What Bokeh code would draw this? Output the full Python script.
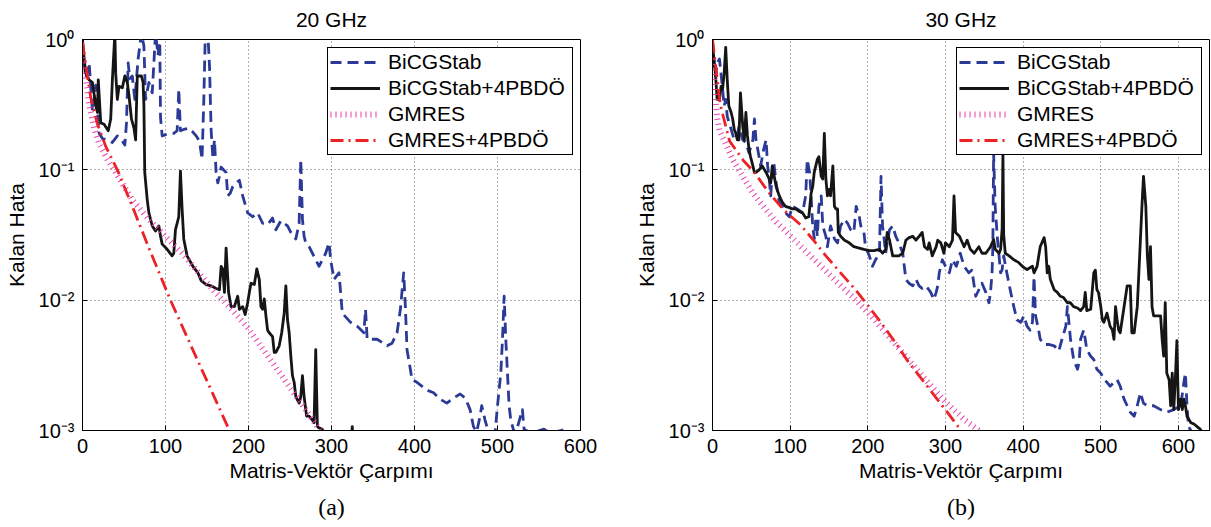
import numpy as np
from bokeh.plotting import figure
from bokeh.layouts import row
from bokeh.models import (Range1d, FixedTicker, CustomJSTickFormatter, Legend,
                          LegendItem, Title)
from bokeh.embed import file_html
from bokeh.resources import INLINE

# ---------------- labels ----------------
SERIES_NAMES = ["BiCGStab", "BiCGStab+4PBDÖ", "GMRES", "GMRES+4PBDÖ"]
X_LABEL = "Matris-Vektör Çarpımı"
Y_LABEL = "Kalan Hata"
X_TICKS = [0, 100, 200, 300, 400, 500, 600]
Y_TICKS = [1e-3, 1e-2, 1e-1, 1.0]

# ---------------- (a) 20 GHz : x = iterations, values = log10(residual) -------------
a_bicg_x = [0,4,8,12,16,20,24,30,36,42,48,51,53,55,57,60,63,67,71,74,76,80,84,88,91,93,94,96,100,105,
            110,114,116,118,122,128,133,137,141,144,146,148,151,153,155,157,159,161,163,165,167,173,175,
            178,181,185,189,193,199,205,211,217,223,229,233,239,243,247,251,257,261,263,265,267,269,273,
            277,281,285,289,293,297,299,303,309,311,313,323,331,339,341,343,355,367,373,379,383,387,389,
            391,395,397,403,415,423,431,439,447,455,461,467,471,475,479,481,485,489,497,500,504,506,508,
            510,512,514,516,519,522,530,532,540,556,564,576,584,588]
a_bicg_log = [-0.05,-0.3,-0.18,-0.55,-0.35,-0.72,-0.76,-0.77,-0.79,-0.74,-0.78,-0.81,-0.64,-0.18,-0.30,
              -0.28,-0.46,-0.15,0.05,-0.05,-0.46,-0.33,-0.41,0.05,-0.12,0.05,-0.6,-0.74,-0.73,-0.72,-0.72,
              -0.70,-0.38,-0.70,-0.69,-0.68,-0.71,-0.74,-0.78,-0.92,-0.5,0.05,0.05,-0.2,-0.7,-0.9,-0.77,
              -1.02,-1.1,-1.05,-0.98,-1.02,-1.20,-1.18,-1.13,-1.10,-1.08,-1.20,-1.33,-1.36,-1.33,-1.41,
              -1.42,-1.37,-1.46,-1.39,-1.41,-1.43,-1.48,-1.53,-1.41,-0.92,-1.38,-1.51,-1.56,-1.59,-1.64,
              -1.69,-1.74,-1.69,-1.64,-1.56,-1.69,-1.84,-1.79,-1.94,-2.10,-2.17,-2.20,-2.25,-2.07,-2.30,
              -2.30,-2.35,-2.33,-2.25,-2.07,-1.79,-2.05,-2.38,-2.53,-2.61,-2.63,-2.69,-2.71,-2.76,-2.79,
              -2.75,-2.72,-2.75,-2.84,-2.97,-3.01,-2.89,-2.81,-2.92,-3.01,-3.02,-2.81,-2.56,-2.30,-1.97,
              -2.30,-2.56,-2.81,-2.92,-2.99,-3.02,-2.84,-2.99,-3.02,-2.99,-3.02,-3.0,-2.99,-3.1]

a_pre_x = [0,2,4,8,12,16,18,19,22,26,31,34,36,39,40,42,44,48,51,54,56,59,62,64,66,68,71,73,74,75,78,80,
           84,88,92,94,96,102,108,110,112,116,118,120,122,126,133,139,143,149,155,161,165,167,169,171,
           173,176,179,183,187,189,193,196,199,201,203,207,210,213,215,217,219,221,223,225,229,231,233,
           237,240,243,245,247,249,251,253,255,257,261,263,265,267,270,273,277,279,281,283,285,289,295,
           323,325,327]
a_pre_log = [0.0,-0.15,-0.26,-0.31,-0.33,-0.51,-0.56,-0.31,-0.64,-0.65,-0.70,-0.61,-0.31,0.05,-0.26,
             -0.46,-0.36,-0.37,-0.28,-0.33,-0.43,-0.61,-0.68,-0.77,-0.28,-0.28,-0.28,-0.33,-0.51,-1.02,
             -1.23,-1.33,-1.43,-1.47,-1.43,-1.51,-1.57,-1.61,-1.66,-1.64,-1.46,-1.36,-1.01,-1.30,-1.53,
             -1.66,-1.74,-1.79,-1.85,-1.88,-1.89,-1.91,-1.92,-1.74,-1.76,-1.94,-1.60,-1.94,-2.05,-2.05,
             -1.97,-2.07,-2.05,-2.11,-2.02,-1.94,-1.87,-1.88,-1.76,-1.84,-2.05,-2.07,-1.99,-2.12,-2.23,
             -2.25,-2.28,-2.40,-2.40,-2.35,-2.25,-2.10,-1.89,-2.15,-2.25,-2.43,-2.58,-2.63,-2.74,-2.79,
             -2.74,-2.58,-2.74,-2.89,-2.89,-2.92,-2.94,-2.38,-2.97,-2.98,-2.99,-3.2,-3.2,-2.97,-3.2]

a_gm_x = [0,4,8,14,20,30,40,60,80,100,120,140,160,180,200,220,240,260,280,290]
a_gm_log = [-0.1,-0.3,-0.5,-0.68,-0.8,-0.92,-1.02,-1.23,-1.38,-1.51,-1.64,-1.79,-1.94,-2.07,-2.22,
            -2.40,-2.58,-2.76,-2.94,-3.05]

a_gmpre_x = [0,4,10,18,28,42,60,80,106,130,155,177,182]
a_gmpre_log = [-0.02,-0.2,-0.45,-0.65,-0.82,-1.0,-1.28,-1.6,-2.0,-2.34,-2.69,-3.0,-3.07]

# ---------------- (b) 30 GHz ----------------
b_bicg_x = [0,2,4,6,9,13,15,17,19,24,28,32,34,39,43,47,52,54,56,60,62,66,69,71,73,75,77,79,82,86,
            90,94,99,103,109,116,120,122,125,127,129,131,133,135,137,140,142,146,148,152,157,161,165,
            170,174,178,182,185,189,191,195,197,202,206,210,215,217,219,221,223,225,228,232,236,240,245,
            247,249,253,258,262,266,270,275,281,285,288,290,292,296,300,305,309,314,319,324,330,334,339,
            343,347,352,356,358,360,361,362,364,367,371,373,375,379,384,388,392,397,401,405,409,412,414,
            416,420,422,427,433,440,446,450,455,457,459,461,465,470,472,474,478,480,482,487,491,495,500,
            504,508,512,517,521,525,530,534,538,543,547,551,555,560,568,577,585,594,603,607,609,611,613,
            616,618]
b_bicg_log = [0.0,-0.2,-0.28,-0.18,-0.15,-0.38,-0.51,-0.46,-0.59,-0.69,-0.77,-0.74,-0.67,-0.77,-0.79,
              -0.87,-0.77,-0.61,-0.77,-0.9,-0.97,-0.84,-0.77,-0.97,-1.07,-1.2,-1.02,-0.95,-1.10,-1.25,
              -1.28,-1.33,-1.36,-1.28,-1.30,-1.33,-1.2,-0.92,-1.02,-1.2,-1.43,-1.53,-1.38,-1.51,-1.28,
              -1.2,-1.43,-1.51,-1.59,-1.43,-1.53,-1.56,-1.43,-1.38,-1.41,-1.46,-1.48,-1.28,-1.36,-1.43,
              -1.48,-1.59,-1.66,-1.74,-1.69,-1.64,-1.05,-1.43,-1.53,-1.64,-1.56,-1.46,-1.43,-1.51,-1.56,
              -1.64,-1.74,-1.84,-1.87,-1.89,-1.84,-1.89,-1.91,-1.89,-1.94,-1.995,-1.94,-1.89,-1.79,-1.69,
              -1.74,-1.79,-1.69,-1.74,-1.64,-1.74,-1.79,-1.77,-1.97,-1.92,-1.87,-1.94,-2.02,-1.94,-1.79,
              -1.59,-0.87,-1.28,-1.535,-1.79,-1.765,-1.66,-1.79,-1.94,-2.05,-2.15,-2.17,-2.12,-2.2,-2.23,
              -2.17,-1.82,-2.12,-2.23,-2.30,-2.34,-2.34,-2.35,-2.39,-2.30,-2.2,-2.05,-2.17,-2.30,-2.455,
              -2.53,-2.48,-2.30,-2.23,-2.30,-2.38,-2.43,-2.455,-2.53,-2.56,-2.61,-2.63,-2.66,-2.63,-2.61,
              -2.66,-2.76,-2.81,-2.86,-2.89,-2.81,-2.71,-2.79,-2.81,-2.81,-2.84,-2.86,-2.84,-2.81,-2.63,
              -2.56,-2.81,-2.97,-3.0,-3.05]

b_pre_x = [0,2,4,6,9,11,13,15,17,19,21,24,26,28,30,32,34,36,39,41,43,45,47,49,52,54,56,60,64,69,73,
           75,77,82,86,90,94,99,103,107,112,116,120,124,127,129,131,133,135,137,140,142,144,146,148,150,
           152,155,157,159,161,162,165,170,176,182,189,195,202,208,215,219,223,225,228,232,236,240,245,
           249,253,258,262,266,270,273,277,279,283,288,290,294,298,300,305,309,311,313,318,324,328,332,
           337,343,347,352,358,362,364,369,371,373,374,375,377,382,388,394,399,405,412,414,418,422,427,
           429,431,433,435,440,444,448,452,457,461,465,470,474,478,480,482,487,491,493,495,497,500,502,
           504,508,512,515,517,519,521,523,525,530,534,538,540,543,547,551,553,555,558,560,562,564,566,
           568,573,577,579,581,583,585,588,590,592,594,596,598,600,603,605,607,609,611,616,620,624,628,
           631]
b_pre_log = [-0.05,-0.15,-0.28,-0.46,-0.46,-0.36,-0.38,-0.26,-0.06,-0.31,-0.51,-0.56,-0.61,-0.69,-0.72,
             -0.77,-0.77,-0.41,-0.67,-0.77,-0.56,-0.74,-0.84,-0.9,-0.97,-1.02,-1.02,-1.0,-0.97,-1.02,
             -1.07,-1.1,-0.97,-1.13,-1.2,-1.25,-1.28,-1.29,-1.3,-1.3,-1.32,-1.33,-1.37,-1.36,-1.18,-1.13,
             -1.02,-0.97,-0.92,-0.9,-1.05,-1.07,-0.72,-1.07,-1.2,-1.15,-1.2,-0.97,-1.28,-1.3,-1.3,-1.48,
             -1.51,-1.54,-1.56,-1.59,-1.6,-1.61,-1.62,-1.62,-1.61,-1.64,-1.61,-1.48,-1.54,-1.66,-1.66,
             -1.66,-1.64,-1.54,-1.52,-1.51,-1.54,-1.51,-1.48,-1.59,-1.61,-1.56,-1.66,-1.59,-1.54,-1.56,
             -1.64,-1.56,-1.59,-1.54,-1.2,-1.48,-1.51,-1.59,-1.54,-1.61,-1.64,-1.59,-1.64,-1.64,-1.59,
             -1.535,-1.61,-1.64,-1.61,-1.45,-0.87,-1.5,-1.64,-1.66,-1.69,-1.71,-1.74,-1.765,-1.74,-1.79,
             -1.74,-1.59,-1.52,-1.59,-1.79,-1.74,-1.84,-1.92,-1.94,-1.97,-1.98,-2.02,-2.02,-2.05,-2.06,
             -2.08,-2.05,-1.94,-2.08,-2.07,-1.79,-1.77,-1.92,-1.94,-2.05,-2.15,-2.17,-2.10,-2.2,-2.23,
             -2.30,-2.05,-2.15,-2.23,-2.25,-2.05,-1.89,-1.89,-2.25,-2.25,-2.05,-1.54,-1.28,-1.05,-1.28,
             -1.66,-1.84,-1.59,-2.05,-2.12,-2.12,-2.12,-2.30,-2.43,-2.02,-2.56,-2.61,-2.81,-2.56,-2.84,
             -2.61,-2.31,-2.84,-2.76,-2.84,-2.76,-2.81,-2.89,-2.94,-2.95,-2.97,-2.99,-3.02]

b_gm_x = [0,3,6,9,17,26,39,51,64,82,99,116,133,150,167,185,210,240,270,300,325,343,347]
b_gm_log = [-0.15,-0.4,-0.6,-0.7,-0.8,-0.92,-1.05,-1.17,-1.27,-1.4,-1.5,-1.6,-1.7,-1.8,-1.9,-2.0,
            -2.16,-2.37,-2.58,-2.78,-2.92,-3.0,-3.03]

b_gmpre_x = [0,4,10,22,40,54,72,92,113,130,146,165,184,200,218,236,253,270,288,305,320,324]
b_gmpre_log = [0.0,-0.2,-0.5,-0.78,-0.93,-1.02,-1.17,-1.31,-1.42,-1.54,-1.66,-1.79,-1.92,-2.04,-2.18,
               -2.33,-2.48,-2.61,-2.75,-2.88,-3.0,-3.04]

# ---------------- styling ----------------
FONT = "Liberation Sans"
BLUE = "#2B3A96"
BLACK = "#151515"
PINK = "#EA3FAE"
RED = "#EC2227"

SUP_CODE = """
const e = Math.round(Math.log10(tick));
const m = {"0": "\u2070", "1": "\u00b9", "2": "\u00b2", "3": "\u00b3", "-": "\u207b"};
let s = "";
for (const c of String(e)) { s += m[c]; }
return "10" + s;
"""

FRAME_H = 391


def make_panel(title, caption, xmax, series, frame_w, min_left, min_right, legend_loc):
    p = figure(frame_width=frame_w, frame_height=FRAME_H,
               x_range=Range1d(0, xmax), y_range=Range1d(1e-3, 1.0),
               y_axis_type="log", output_backend="svg", toolbar_location=None,
               min_border_left=min_left, min_border_right=min_right,
               min_border_top=39, min_border_bottom=95,
               background_fill_color="white", border_fill_color="white")

    p.title.text = title
    p.title.align = "center"
    p.title.vertical_align = "top"
    p.title.text_font = FONT
    p.title.text_font_size = "21px"
    p.title.text_font_style = "normal"
    p.title.text_color = "black"
    p.title.standoff = 13

    p.add_layout(Title(text=caption, align="center", text_font="Liberation Serif",
                       text_font_size="24px", text_font_style="normal",
                       text_color="black", standoff=14), "below")

    styles = [
        dict(color=BLUE, line_width=2.8, line_dash="11 6"),
        dict(color=BLACK, line_width=2.8),
        dict(color=PINK, line_width=6, line_dash="1 4"),
        dict(color=RED, line_width=2.8, line_dash="13 5 2 5"),
    ]
    items = []
    for name, (xs, logs), st in zip(SERIES_NAMES, series, styles):
        ys = 10.0 ** np.asarray(logs, dtype=float)
        r = p.line(np.asarray(xs, dtype=float), ys, line_color=st["color"],
                   line_width=st["line_width"], line_dash=st.get("line_dash", "solid"),
                   line_join="round")
        items.append(LegendItem(label=name, renderers=[r]))

    legend = Legend(items=items, location=legend_loc,
                    label_text_font=FONT, label_text_font_size="21px",
                    label_text_color="black",
                    glyph_width=50, glyph_height=22, label_height=22,
                    label_standoff=8, label_width=182, padding=2, spacing=2,
                    margin=0, border_line_color="black", border_line_width=1,
                    border_line_alpha=1.0, background_fill_alpha=1.0)
    p.add_layout(legend)

    xt = [t for t in X_TICKS if t <= xmax]
    p.xaxis.ticker = FixedTicker(ticks=xt)
    p.yaxis.ticker = FixedTicker(ticks=Y_TICKS)
    p.yaxis.formatter = CustomJSTickFormatter(code=SUP_CODE)
    p.xaxis.axis_label = X_LABEL
    p.yaxis.axis_label = Y_LABEL
    for ax in (p.xaxis[0], p.yaxis[0]):
        ax.major_label_text_font = FONT
        ax.major_label_text_font_size = "20px"
        ax.major_label_text_color = "black"
        ax.axis_label_text_font = FONT
        ax.axis_label_text_font_size = "21px"
        ax.axis_label_text_font_style = "normal"
        ax.axis_label_text_color = "black"
        ax.major_tick_in = 5
        ax.major_tick_out = 0
        ax.major_tick_line_color = "black"
        ax.minor_tick_line_color = None
        ax.axis_line_color = "black"
    p.xaxis.major_label_standoff = 8
    p.xaxis.axis_label_standoff = 3
    p.yaxis.major_label_standoff = 8
    p.yaxis.axis_label_standoff = 8

    p.xgrid.ticker = FixedTicker(ticks=xt)
    p.ygrid.ticker = FixedTicker(ticks=Y_TICKS)
    for g in (p.xgrid[0], p.ygrid[0]):
        g.grid_line_color = "black"
        g.grid_line_alpha = 0.6
        g.grid_line_dash = "1 3"
        g.grid_line_width = 1
    p.outline_line_color = "black"
    p.outline_line_width = 1
    p.outline_line_alpha = 1.0
    return p


pa = make_panel("20 GHz", "(a)", 600,
                [(a_bicg_x, a_bicg_log), (a_pre_x, a_pre_log),
                 (a_gm_x, a_gm_log), (a_gmpre_x, a_gmpre_log)],
                frame_w=498, min_left=82, min_right=50, legend_loc=(245, 275))
pb = make_panel("30 GHz", "(b)", 640,
                [(b_bicg_x, b_bicg_log), (b_pre_x, b_pre_log),
                 (b_gm_x, b_gm_log), (b_gmpre_x, b_gmpre_log)],
                frame_w=497, min_left=82, min_right=2, legend_loc=(244, 275))

layout = row(pa, pb)
open("out.html", "w", encoding="utf-8").write(file_html(layout, INLINE))
